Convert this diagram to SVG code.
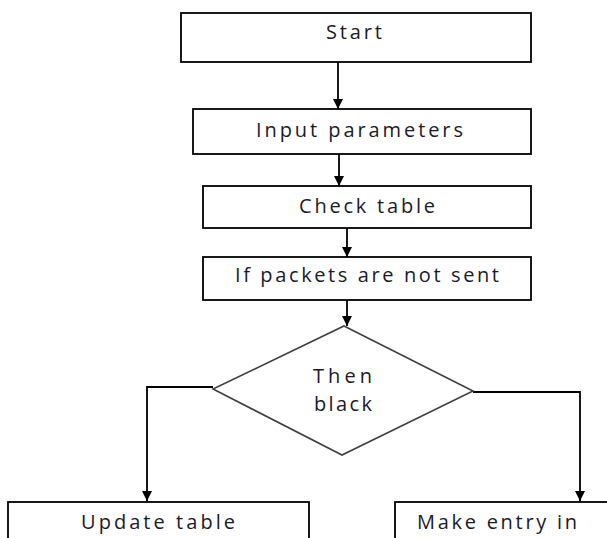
<svg xmlns="http://www.w3.org/2000/svg" width="607" height="538" viewBox="0 0 607 538">
<style>
.box{fill:#fff;stroke:#000;stroke-width:1.8}
.dia{fill:#fff;stroke:#404040;stroke-width:1.6}
.lbl{font-family:"Open Sans","DejaVu Sans",sans-serif;font-size:20px;fill:#1a1a2a}
.con{fill:none;stroke:#000;stroke-width:1.8}
</style>
<defs>
<marker id="arr" viewBox="0 0 10 10" refX="10" refY="5" markerWidth="10" markerHeight="10" markerUnits="userSpaceOnUse" orient="auto">
<path d="M0,0 L10,5 L0,10 Z" fill="#000"/>
</marker>
</defs>
<rect width="607" height="538" fill="#fff"/>
<g id="connectors">
<line class="con" x1="338" y1="62" x2="338" y2="109" marker-end="url(#arr)"/>
<line class="con" x1="339" y1="154" x2="339" y2="186" marker-end="url(#arr)"/>
<line class="con" x1="347" y1="228" x2="347" y2="257" marker-end="url(#arr)"/>
<line class="con" x1="347" y1="300" x2="347" y2="326" marker-end="url(#arr)"/>
<polyline class="con" points="213,387 147,387 147,501" marker-end="url(#arr)"/>
<polyline class="con" points="473,392 580,392 580,501" marker-end="url(#arr)"/>
</g>
<g id="start">
<rect class="box" x="181" y="13" width="350" height="49"/>
<text class="lbl" x="326" y="39" textLength="56" lengthAdjust="spacing">Start</text>
</g>
<g id="input">
<rect class="box" x="193" y="109" width="338" height="45"/>
<text class="lbl" x="256" y="137" textLength="207" lengthAdjust="spacing">Input parameters</text>
</g>
<g id="check">
<rect class="box" x="203" y="186" width="328" height="42"/>
<text class="lbl" x="299" y="213" textLength="136" lengthAdjust="spacing">Check table</text>
</g>
<g id="ifpackets">
<rect class="box" x="203" y="257" width="328" height="43"/>
<text class="lbl" x="235" y="282" textLength="264" lengthAdjust="spacing">If packets are not sent</text>
</g>
<g id="decision">
<polygon class="dia" points="344,326 473,391 342,455 213,389"/>
<text class="lbl" x="313" y="383" textLength="59" lengthAdjust="spacing">Then</text>
<text class="lbl" x="314" y="411" textLength="58" lengthAdjust="spacing">black</text>
</g>
<g id="update">
<rect class="box" x="8" y="502" width="301" height="60"/>
<text class="lbl" x="81" y="529" textLength="154" lengthAdjust="spacing">Update table</text>
</g>
<g id="makeentry">
<rect class="box" x="395" y="502" width="240" height="60"/>
<text class="lbl" x="417" y="529" textLength="160" lengthAdjust="spacing">Make entry in</text>
</g>
</svg>
